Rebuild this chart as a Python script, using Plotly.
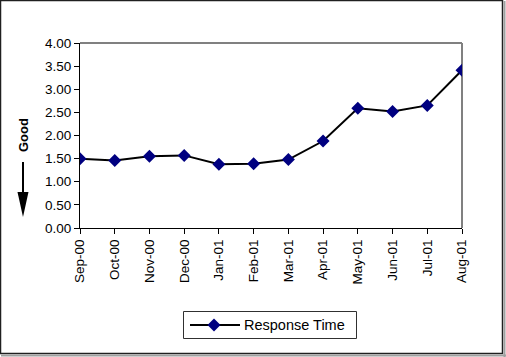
import plotly.graph_objects as go

months = ["Sep-00", "Oct-00", "Nov-00", "Dec-00", "Jan-01", "Feb-01",
          "Mar-01", "Apr-01", "May-01", "Jun-01", "Jul-01", "Aug-01"]
response_time = [1.50, 1.46, 1.55, 1.57, 1.38, 1.39, 1.48, 1.88, 2.59, 2.52, 2.65, 3.41]
y_ticks = [0, 0.5, 1, 1.5, 2, 2.5, 3, 3.5, 4]
y_tick_text = ["%.2f" % v for v in y_ticks]
series_name = "Response Time"
side_label = "Good"

W, H = 506, 357
L, R, T, B = 80, 462, 43, 228  # plot area in pixels


def px(x):
    return (x - L) / (R - L)


def py(y):
    return (B - y) / (B - T)


fig = go.Figure()
fig.add_trace(go.Scatter(
    x=months, y=response_time, mode="lines+markers", name=series_name,
    line=dict(color="black", width=2),
    marker=dict(symbol="diamond", size=10, color="#000080",
                line=dict(width=0)),
    showlegend=False,
))

font = "Liberation Sans, Arial, sans-serif"
fig.update_layout(
    width=W, height=H,
    margin=dict(l=L, r=W - R, t=T, b=H - B, pad=0),
    paper_bgcolor="white", plot_bgcolor="white",
    font=dict(family=font, size=13, color="black"),
    showlegend=False,
    xaxis=dict(type="category", range=[0, 11], showgrid=False,
               showline=True, linecolor="black", linewidth=1,
               ticks="outside", ticklen=5, tickcolor="black",
               tickangle=-90, tickfont=dict(size=13.5), zeroline=False,
               automargin=False),
    yaxis=dict(range=[0, 4], tickvals=y_ticks, ticktext=y_tick_text,
               showgrid=False, showline=True, linecolor="black", linewidth=1,
               ticks="outside", ticklen=5, tickcolor="black",
               tickfont=dict(size=13.5), zeroline=False, automargin=False),
)

# plot area border (gray top/right)
fig.add_shape(type="line", xref="paper", yref="paper", x0=0, x1=1, y0=1, y1=1,
              line=dict(color="#808080", width=2), layer="below")
fig.add_shape(type="line", xref="paper", yref="paper", x0=1, x1=1, y0=0, y1=1,
              line=dict(color="#808080", width=2), layer="below")

# outer chart frame
fig.add_shape(type="rect", xref="paper", yref="paper",
              x0=px(0.5), x1=px(502.5), y0=py(0.5), y1=py(353.5),
              line=dict(color="#202020", width=1.5))
fig.add_shape(type="line", xref="paper", yref="paper",
              x0=px(504.5), x1=px(504.5), y0=py(1), y1=py(357),
              line=dict(color="#a0a0a0", width=2))
fig.add_shape(type="line", xref="paper", yref="paper",
              x0=px(1), x1=px(506), y0=py(355.5), y1=py(355.5),
              line=dict(color="#a0a0a0", width=2))

# "Good" label and downward arrow
fig.add_annotation(xref="paper", yref="paper", x=px(23), y=py(135),
                   text="<b>%s</b>" % side_label, textangle=-90, showarrow=False,
                   font=dict(size=13, family=font, color="black"),
                   xanchor="center", yanchor="middle")
fig.add_shape(type="line", xref="paper", yref="paper",
              x0=px(23), x1=px(23), y0=py(162), y1=py(195),
              line=dict(color="black", width=2))
fig.add_shape(type="path", xref="paper", yref="paper",
              path="M %f %f L %f %f L %f %f Z" % (px(17.5), py(192), px(28.5), py(192), px(23), py(217)),
              fillcolor="black", line=dict(color="black", width=0))

# custom legend box
fig.add_shape(type="rect", xref="paper", yref="paper",
              x0=px(183.5), x1=px(356.5), y0=py(311.5), y1=py(338.5),
              line=dict(color="#303030", width=1), fillcolor="white")
fig.add_shape(type="line", xref="paper", yref="paper",
              x0=px(190), x1=px(240), y0=py(325), y1=py(325),
              line=dict(color="black", width=2))
fig.add_shape(type="path", xref="paper", yref="paper",
              path="M %f %f L %f %f L %f %f L %f %f Z" % (
                  px(214), py(318.5), px(220.5), py(325), px(214), py(331.5), px(207.5), py(325)),
              fillcolor="#000080", line=dict(width=0))
fig.add_annotation(xref="paper", yref="paper", x=px(242), y=py(325),
                   text=series_name, showarrow=False, xanchor="left", yanchor="middle",
                   font=dict(size=14.5, family=font, color="black"))

fig.write_html("out.html", config={"displayModeBar": False},
               post_script="document.body.style.margin='0';document.body.style.overflow='hidden';")
